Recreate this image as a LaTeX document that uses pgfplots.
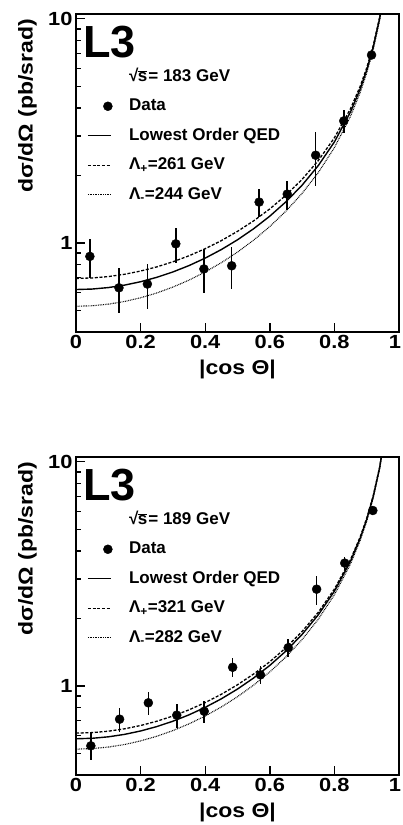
\documentclass[border=0pt]{standalone}
\usepackage{fontspec}
\setmainfont{Liberation Sans}
\newfontfamily\widefont{Liberation Sans}[FakeStretch=1.15]
\usepackage{pgfplots}
\pgfplotsset{compat=1.18}

\tikzset{
  qedline/.style={black, line width=1.4pt},
  plusline/.style={black, line width=1.3pt, dash pattern=on 3pt off 1.7pt},
  minusline/.style={black, line width=1.1pt, dash pattern=on 0.8pt off 0.9pt},
}

\newcommand{\rts}{√\kern-0.5pt$\overline{\hbox{s}}$\kern1pt}

\begin{document}
\begin{tikzpicture}
\useasboundingbox (0,0) rectangle (402pt,-825pt);

% ---- sqrt(s) = 183 GeV
\begin{axis}[
    at={(76pt,-332pt)}, anchor=south west,
    scale only axis, width=323pt, height=318pt,
    xmin=0, xmax=1, ymode=log, ymin=0.4, ymax=10.5,
    axis line style={line width=1.6pt},
    tick style={line width=1.4pt, black},
    tick align=inside, xtick pos=left, ytick pos=left,
    xtick={0,0.2,0.4,0.6,0.8,1},
    xticklabels={0,0.2,0.4,0.6,0.8,\makebox[4pt][r]{1}},
    ytick={1,10}, yticklabels={1,10},
    minor ytick={0.5,0.6,0.7,0.8,0.9,2,3,4,5,6,7,8,9},
    major tick length=9pt, minor tick length=5.5pt,
    /pgf/number format/assume math mode=true,
    ticklabel style={font=\widefont\bfseries\fontsize{19}{19}\selectfont},
    xlabel={|cos Θ|}, ylabel={dσ/dΩ (pb/srad)},
    label style={font=\widefont\bfseries\fontsize{20}{20}\selectfont, inner sep=0pt},
    xlabel style={at={(axis description cs:0.5,-0.088)}, anchor=north},
    ylabel style={at={(axis description cs:-0.15,0.985)}, anchor=east},
    legend style={at={(axis description cs:0.034,0.83)}, anchor=north west,
      draw=none, fill=none, inner sep=0pt, column sep=16.5pt, row sep=12.5pt,
      nodes={inner sep=0pt, text height=13pt, text depth=4pt},
      font=\bfseries\fontsize{17}{17}\selectfont},
    legend cell align=left,
    legend entries={{\rts= 183 GeV},{Data},{Lowest Order QED},
      {Λ\textsubscript{+}=261 GeV},{Λ\textsubscript{-}=244 GeV}},
  ]
\addlegendimage{empty legend}
\addlegendimage{legend image code/.code={\fill[black] (20pt,0pt) circle (4.5pt);}}
\addlegendimage{legend image code/.code={\draw[qedline] (0pt,0pt) -- (23pt,0pt);}}
\addlegendimage{legend image code/.code={\draw[plusline] (0pt,0pt) -- (23pt,0pt);}}
\addlegendimage{legend image code/.code={\draw[minusline] (0pt,0pt) -- (23pt,0pt);}}

\addplot[forget plot, qedline] coordinates {
 (0,0.619) (0.05,0.622) (0.1,0.6315) (0.15,0.6475) (0.2,0.6706) (0.25,0.7015)
 (0.3,0.7414) (0.35,0.7918) (0.4,0.8548) (0.45,0.9333) (0.5,1.0317) (0.55,1.1559)
 (0.6,1.3154) (0.65,1.5247) (0.7,1.8085) (0.75,2.2107) (0.8,2.8199) (0.85,3.8423)
 (0.88,4.8686) (0.9,5.8968) (0.92,7.4409) (0.94,10.017) (0.96,15.172)};
\addplot[forget plot, plusline] coordinates {
 (0,0.6938) (0.05,0.6970) (0.1,0.7070) (0.15,0.7240) (0.2,0.7484) (0.25,0.7810)
 (0.3,0.8229) (0.35,0.8757) (0.4,0.9415) (0.45,1.0232) (0.5,1.1252) (0.55,1.2533)
 (0.6,1.4171) (0.65,1.6311) (0.7,1.9199) (0.75,2.3275) (0.8,2.9425) (0.85,3.9711)
 (0.88,5.0013) (0.9,6.0322) (0.92,7.5790) (0.94,10.158) (0.96,15.316)};
\addplot[forget plot, minusline] coordinates {
 (0,0.5211) (0.05,0.5238) (0.1,0.5326) (0.15,0.5474) (0.2,0.5688) (0.25,0.5974)
 (0.3,0.6347) (0.35,0.6819) (0.4,0.7412) (0.45,0.8155) (0.5,0.9093) (0.55,1.0283)
 (0.6,1.1822) (0.65,1.3854) (0.7,1.6626) (0.75,2.0577) (0.8,2.6593) (0.85,3.6736)
 (0.88,4.6948) (0.9,5.7195) (0.92,7.2601) (0.94,9.8325) (0.96,14.984)};
\addplot[forget plot, black, only marks, mark=*, mark size=4.5pt,
  error bars/y dir=both, error bars/y explicit, error bars/error mark=none,
  error bars/error bar style={line width=1.5pt}] coordinates {
 (0.043,0.87) +- (0,0.17)
 (0.133,0.63) +- (0,0.145)
 (0.221,0.655) +- (0,0.15)
 (0.309,0.99) +- (0,0.18)
 (0.396,0.765) +- (0,0.17)
 (0.482,0.79) +- (0,0.165)
 (0.567,1.52) +- (0,0.22)
 (0.654,1.65) +- (0,0.245)
 (0.742,2.46) +- (0,0.67)
 (0.829,3.50) +- (0,0.42)
 (0.915,6.89) +- (0,0.3)};
\node[anchor=north west, inner sep=0pt, font=\bfseries\fontsize{45}{45}\selectfont]
  at (axis description cs:0.022,0.962) {L3};
\end{axis}

% ---- sqrt(s) = 189 GeV
\begin{axis}[
    at={(76pt,-775pt)}, anchor=south west,
    scale only axis, width=323pt, height=318pt,
    xmin=0, xmax=1, ymode=log, ymin=0.4, ymax=10.5,
    axis line style={line width=1.6pt},
    tick style={line width=1.4pt, black},
    tick align=inside, xtick pos=left, ytick pos=left,
    xtick={0,0.2,0.4,0.6,0.8,1},
    xticklabels={0,0.2,0.4,0.6,0.8,\makebox[4pt][r]{1}},
    ytick={1,10}, yticklabels={1,10},
    minor ytick={0.5,0.6,0.7,0.8,0.9,2,3,4,5,6,7,8,9},
    major tick length=9pt, minor tick length=5.5pt,
    /pgf/number format/assume math mode=true,
    ticklabel style={font=\widefont\bfseries\fontsize{19}{19}\selectfont},
    xlabel={|cos Θ|}, ylabel={dσ/dΩ (pb/srad)},
    label style={font=\widefont\bfseries\fontsize{20}{20}\selectfont, inner sep=0pt},
    xlabel style={at={(axis description cs:0.5,-0.088)}, anchor=north},
    ylabel style={at={(axis description cs:-0.15,0.985)}, anchor=east},
    legend style={at={(axis description cs:0.034,0.83)}, anchor=north west,
      draw=none, fill=none, inner sep=0pt, column sep=16.5pt, row sep=12.5pt,
      nodes={inner sep=0pt, text height=13pt, text depth=4pt},
      font=\bfseries\fontsize{17}{17}\selectfont},
    legend cell align=left,
    legend entries={{\rts= 189 GeV},{Data},{Lowest Order QED},
      {Λ\textsubscript{+}=321 GeV},{Λ\textsubscript{-}=282 GeV}},
  ]
\addlegendimage{empty legend}
\addlegendimage{legend image code/.code={\fill[black] (20pt,0pt) circle (4.5pt);}}
\addlegendimage{legend image code/.code={\draw[qedline] (0pt,0pt) -- (23pt,0pt);}}
\addlegendimage{legend image code/.code={\draw[plusline] (0pt,0pt) -- (23pt,0pt);}}
\addlegendimage{legend image code/.code={\draw[minusline] (0pt,0pt) -- (23pt,0pt);}}

\addplot[forget plot, qedline] coordinates {
 (0,0.5805) (0.05,0.5834) (0.1,0.5922) (0.15,0.6072) (0.2,0.6289) (0.25,0.6579)
 (0.3,0.6953) (0.35,0.7426) (0.4,0.8016) (0.45,0.8753) (0.5,0.9675) (0.55,1.0840)
 (0.6,1.2336) (0.65,1.4299) (0.7,1.6960) (0.75,2.0732) (0.8,2.6445) (0.85,3.6033)
 (0.88,4.5657) (0.9,5.5300) (0.92,6.9781) (0.94,9.3937) (0.96,14.228)};
\addplot[forget plot, plusline] coordinates {
 (0,0.6154) (0.05,0.6184) (0.1,0.6274) (0.15,0.6429) (0.2,0.6652) (0.25,0.6950)
 (0.3,0.7333) (0.35,0.7818) (0.4,0.8421) (0.45,0.9172) (0.5,1.0111) (0.55,1.1294)
 (0.6,1.2810) (0.65,1.4795) (0.7,1.7480) (0.75,2.1277) (0.8,2.7017) (0.85,3.6634)
 (0.88,4.6276) (0.9,5.5931) (0.92,7.0425) (0.94,9.4594) (0.96,14.295)};
\addplot[forget plot, minusline] coordinates {
 (0,0.5219) (0.05,0.5247) (0.1,0.5331) (0.15,0.5473) (0.2,0.5680) (0.25,0.5957)
 (0.3,0.6315) (0.35,0.6769) (0.4,0.7337) (0.45,0.8049) (0.5,0.8943) (0.55,1.0077)
 (0.6,1.1540) (0.65,1.3466) (0.7,1.6087) (0.75,1.9817) (0.8,2.5485) (0.85,3.5024)
 (0.88,4.4618) (0.9,5.4240) (0.92,6.8700) (0.94,9.2834) (0.96,14.116)};
\addplot[forget plot, black, only marks, mark=*, mark size=4.5pt,
  error bars/y dir=both, error bars/y explicit, error bars/error mark=none,
  error bars/error bar style={line width=1.5pt}] coordinates {
 (0.046,0.54) +- (0,0.074)
 (0.135,0.71) +- (0,0.085)
 (0.224,0.84) +- (0,0.095)
 (0.312,0.74) +- (0,0.09)
 (0.397,0.77) +- (0,0.09)
 (0.485,1.21) +- (0,0.12)
 (0.571,1.12) +- (0,0.10)
 (0.657,1.48) +- (0,0.135)
 (0.745,2.70) +- (0,0.40)
 (0.832,3.53) +- (0,0.24)
 (0.919,6.06) +- (0,0.2)};
\node[anchor=north west, inner sep=0pt, font=\bfseries\fontsize{45}{45}\selectfont]
  at (axis description cs:0.022,0.962) {L3};
\end{axis}
\end{tikzpicture}
\end{document}
